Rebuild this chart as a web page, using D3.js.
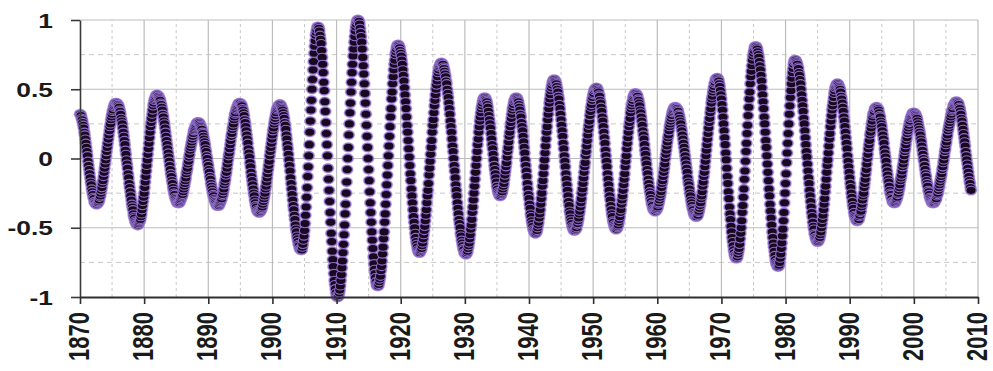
<!DOCTYPE html>
<html>
<head>
<meta charset="utf-8">
<script src="https://cdn.jsdelivr.net/npm/d3@7"></script>
<style>
  html, body { margin: 0; padding: 0; background: #ffffff; }
  svg { display: block; }
</style>
</head>
<body>
<svg id="chart" width="993" height="371"></svg>
<script>
// ---------- DATA (monthly values, starting January 1870) ----------
const startYear = 1870;
const monthsPerYear = 12;

const values1870s = [0.32,0.32,0.31,0.29,0.28,0.26,0.24,0.22,0.19,0.17,0.14,0.11,0.08,0.05,0.02,-0.02,-0.05,-0.08,-0.11,-0.14,-0.17,-0.19,-0.22,-0.24,-0.26,-0.28,-0.29,-0.31,-0.32,-0.32,-0.33,
-0.33,-0.33,-0.32,-0.32,-0.31,-0.30,-0.28,-0.27,-0.25,-0.23,-0.21,-0.18,-0.16,-0.13,-0.10,-0.07,-0.04,-0.01,0.02,0.05,0.08,0.11,0.14,0.17,0.20,0.23,0.25,0.28,0.30,0.32,0.34,0.35,0.37,0.38,0.39,0.40,0.40,
0.40,0.40,0.39,0.39,0.38,0.37,0.35,0.34,0.32,0.29,0.27,0.25,0.22,0.19,0.16,0.13,0.10,0.06,0.03,-0.01,-0.04,-0.07,-0.11,-0.14,-0.18,-0.21,-0.24,-0.27,-0.30,-0.33,-0.35,-0.37,-0.40,-0.42,-0.43,-0.45,-0.46,-0.47,-0.47,-0.48,
-0.48,-0.48,-0.47,-0.46,-0.45,-0.44,-0.42,-0.40,-0.37,-0.34,-0.31,-0.28];

const values1880s = [-0.25,-0.21,-0.17,-0.13,-0.09,-0.05,-0.01,0.03,0.07,0.11,0.15,0.19,0.23,0.26,0.29,0.32,0.35,0.38,0.40,0.42,0.43,0.44,0.45,0.46,
0.46,0.46,0.45,0.45,0.44,0.43,0.42,0.40,0.39,0.37,0.35,0.32,0.30,0.27,0.25,0.22,0.19,0.16,0.13,0.10,0.07,0.04,0.01,-0.02,-0.05,-0.08,-0.11,-0.13,-0.16,-0.18,-0.21,-0.23,-0.25,-0.26,-0.28,-0.29,-0.30,-0.31,-0.32,-0.32,
-0.32,-0.32,-0.32,-0.31,-0.30,-0.29,-0.28,-0.27,-0.26,-0.24,-0.22,-0.20,-0.18,-0.16,-0.14,-0.11,-0.09,-0.07,-0.04,-0.02,0.01,0.03,0.06,0.08,0.10,0.12,0.14,0.16,0.18,0.20,0.21,0.22,0.23,0.24,0.25,0.26,0.26,
0.26,0.26,0.26,0.25,0.24,0.23,0.22,0.21,0.19,0.18,0.16,0.14,0.12,0.10,0.07,0.05,0.02,0.00,-0.03];

const values1890s = [-0.05,-0.08,-0.10,-0.13,-0.15,-0.18,-0.20,-0.22,-0.24,-0.26,-0.27,-0.29,-0.30,-0.31,-0.32,-0.33,-0.34,-0.34,
-0.34,-0.34,-0.34,-0.33,-0.32,-0.31,-0.30,-0.29,-0.27,-0.26,-0.24,-0.22,-0.19,-0.17,-0.15,-0.12,-0.10,-0.07,-0.04,-0.01,0.02,0.04,0.07,0.10,0.13,0.16,0.18,0.21,0.23,0.25,0.28,0.30,0.32,0.33,0.35,0.36,0.37,0.38,0.39,0.40,0.40,
0.40,0.40,0.39,0.39,0.38,0.36,0.35,0.33,0.31,0.28,0.26,0.23,0.20,0.17,0.14,0.11,0.07,0.04,0.01,-0.03,-0.06,-0.10,-0.13,-0.16,-0.19,-0.22,-0.25,-0.27,-0.30,-0.32,-0.34,-0.35,-0.37,-0.38,-0.38,-0.39,
-0.39,-0.39,-0.38,-0.38,-0.37,-0.36,-0.35,-0.33,-0.31,-0.29,-0.27,-0.25,-0.22,-0.20,-0.17,-0.14,-0.11,-0.08,-0.05,-0.02,0.02,0.05,0.08,0.11,0.14];

const values1900s = [0.17,0.20,0.22,0.25,0.27,0.29,0.31,0.33,0.35,0.36,0.37,0.38,0.38,0.39,
0.39,0.39,0.38,0.37,0.36,0.35,0.33,0.31,0.29,0.26,0.24,0.21,0.17,0.14,0.10,0.07,0.03,-0.01,-0.05,-0.09,-0.14,-0.18,-0.22,-0.26,-0.30,-0.34,-0.37,-0.41,-0.44,-0.48,-0.51,-0.53,-0.56,-0.58,-0.60,-0.62,-0.63,-0.65,-0.65,-0.66,
-0.66,-0.66,-0.64,-0.62,-0.59,-0.56,-0.52,-0.47,-0.41,-0.35,-0.28,-0.21,-0.13,-0.06,0.02,0.10,0.19,0.27,0.35,0.42,0.50,0.57,0.64,0.70,0.76,0.81,0.85,0.89,0.91,0.93,0.95,
0.95,0.95,0.94,0.92,0.89,0.86,0.83,0.78,0.73,0.68,0.62,0.55,0.49,0.41,0.34,0.26,0.18,0.10,0.02,-0.07,-0.15,-0.23,-0.31,-0.39,-0.46,-0.54,-0.60,-0.67,-0.73,-0.78,-0.83,-0.88,-0.91,-0.94,-0.97];

const values1910s = [-0.99,-1.00,
-1.00,-1.00,-0.99,-0.97,-0.95,-0.92,-0.88,-0.84,-0.79,-0.74,-0.68,-0.62,-0.55,-0.48,-0.40,-0.33,-0.25,-0.17,-0.08,0.00,0.08,0.17,0.25,0.33,0.40,0.48,0.55,0.62,0.68,0.74,0.79,0.84,0.88,0.92,0.95,0.97,0.99,1.00,
1.00,1.00,0.99,0.97,0.94,0.91,0.88,0.84,0.79,0.73,0.67,0.61,0.54,0.47,0.40,0.32,0.24,0.16,0.08,0.00,-0.08,-0.16,-0.24,-0.32,-0.39,-0.46,-0.53,-0.59,-0.65,-0.71,-0.76,-0.80,-0.83,-0.86,-0.89,-0.91,-0.92,
-0.92,-0.92,-0.91,-0.89,-0.87,-0.85,-0.81,-0.78,-0.74,-0.69,-0.64,-0.58,-0.53,-0.46,-0.40,-0.33,-0.26,-0.19,-0.12,-0.05,0.02,0.09,0.16,0.23,0.30,0.36,0.43,0.48,0.54,0.59,0.64,0.68,0.71,0.75,0.77,0.79,0.81,0.82,
0.82,0.82,0.81,0.80,0.78];

const values1920s = [0.76,0.74,0.71,0.68,0.64,0.60,0.56,0.51,0.46,0.41,0.36,0.30,0.24,0.19,0.13,0.07,0.01,-0.05,-0.11,-0.16,-0.22,-0.27,-0.32,-0.37,-0.42,-0.46,-0.50,-0.54,-0.57,-0.60,-0.62,-0.64,-0.66,-0.67,-0.68,
-0.68,-0.68,-0.67,-0.66,-0.65,-0.63,-0.61,-0.58,-0.55,-0.52,-0.49,-0.45,-0.41,-0.37,-0.32,-0.27,-0.23,-0.18,-0.12,-0.07,-0.02,0.03,0.08,0.13,0.19,0.24,0.28,0.33,0.38,0.42,0.46,0.50,0.53,0.56,0.59,0.62,0.64,0.66,0.67,0.68,0.69,
0.69,0.69,0.68,0.68,0.66,0.65,0.63,0.61,0.59,0.56,0.54,0.50,0.47,0.44,0.40,0.36,0.32,0.27,0.23,0.19,0.14,0.09,0.05,0.00,-0.05,-0.09,-0.14,-0.19,-0.23,-0.27,-0.32,-0.36,-0.40,-0.44,-0.47,-0.50,-0.54,-0.56,-0.59,-0.61,-0.63,-0.65,-0.66,-0.68];

const values1930s = [-0.68,-0.69,
-0.69,-0.69,-0.68,-0.67,-0.65,-0.63,-0.61,-0.58,-0.55,-0.51,-0.48,-0.44,-0.39,-0.35,-0.30,-0.25,-0.20,-0.15,-0.10,-0.05,0.00,0.05,0.10,0.14,0.19,0.23,0.27,0.30,0.33,0.36,0.38,0.40,0.42,0.43,0.44,
0.44,0.44,0.43,0.42,0.41,0.39,0.37,0.34,0.31,0.28,0.25,0.22,0.18,0.14,0.10,0.07,0.03,-0.01,-0.05,-0.08,-0.11,-0.14,-0.17,-0.20,-0.22,-0.24,-0.25,-0.26,-0.27,
-0.27,-0.27,-0.26,-0.25,-0.24,-0.22,-0.20,-0.18,-0.15,-0.12,-0.09,-0.06,-0.03,0.01,0.05,0.08,0.12,0.16,0.19,0.23,0.26,0.29,0.32,0.35,0.37,0.39,0.41,0.42,0.43,0.44,
0.44,0.44,0.43,0.42,0.41,0.39,0.37,0.35,0.32,0.30,0.26,0.23,0.20,0.16,0.12,0.08,0.04,-0.01,-0.05,-0.09,-0.13,-0.18,-0.22,-0.26];

const values1940s = [-0.29,-0.33,-0.36,-0.40,-0.42,-0.45,-0.47,-0.49,-0.51,-0.52,-0.53,-0.54,
-0.54,-0.54,-0.53,-0.52,-0.50,-0.48,-0.46,-0.43,-0.40,-0.37,-0.33,-0.29,-0.25,-0.20,-0.16,-0.11,-0.06,-0.01,0.04,0.09,0.14,0.19,0.23,0.28,0.32,0.36,0.40,0.43,0.46,0.49,0.51,0.53,0.55,0.56,0.57,
0.57,0.57,0.56,0.55,0.54,0.52,0.50,0.48,0.45,0.43,0.39,0.36,0.32,0.28,0.24,0.20,0.16,0.11,0.07,0.02,-0.02,-0.06,-0.11,-0.15,-0.19,-0.23,-0.27,-0.31,-0.34,-0.38,-0.40,-0.43,-0.45,-0.47,-0.49,-0.50,-0.51,-0.52,
-0.52,-0.52,-0.51,-0.51,-0.50,-0.48,-0.47,-0.45,-0.43,-0.40,-0.38,-0.35,-0.32,-0.29,-0.25,-0.22,-0.18,-0.14,-0.10,-0.06,-0.03,0.02,0.05,0.09,0.13,0.17,0.21,0.24,0.27,0.31,0.34,0.37,0.39,0.42,0.44];

const values1950s = [0.46,0.47,0.49,0.50,0.50,0.51,
0.51,0.51,0.50,0.49,0.48,0.46,0.45,0.42,0.40,0.37,0.34,0.30,0.27,0.23,0.19,0.15,0.11,0.06,0.02,-0.02,-0.06,-0.11,-0.15,-0.19,-0.23,-0.27,-0.30,-0.34,-0.37,-0.40,-0.42,-0.45,-0.46,-0.48,-0.49,-0.50,-0.51,
-0.51,-0.51,-0.50,-0.49,-0.48,-0.46,-0.44,-0.42,-0.39,-0.37,-0.33,-0.30,-0.27,-0.23,-0.19,-0.15,-0.11,-0.06,-0.02,0.02,0.07,0.11,0.15,0.19,0.23,0.26,0.29,0.33,0.36,0.38,0.40,0.42,0.44,0.45,0.46,0.47,
0.47,0.47,0.46,0.46,0.45,0.43,0.42,0.40,0.38,0.35,0.33,0.30,0.27,0.24,0.20,0.17,0.14,0.10,0.06,0.03,-0.01,-0.04,-0.08,-0.11,-0.15,-0.18,-0.21,-0.24,-0.26,-0.29,-0.31,-0.33,-0.34,-0.36,-0.37,-0.37,-0.38,
-0.38,-0.38,-0.37,-0.37];

const values1960s = [-0.36,-0.35,-0.33,-0.32,-0.30,-0.28,-0.26,-0.24,-0.21,-0.18,-0.16,-0.13,-0.10,-0.07,-0.04,0.00,0.03,0.06,0.09,0.12,0.15,0.17,0.20,0.23,0.25,0.27,0.29,0.31,0.33,0.34,0.35,0.36,0.37,0.37,
0.37,0.37,0.36,0.36,0.35,0.34,0.32,0.31,0.29,0.27,0.25,0.22,0.20,0.17,0.14,0.11,0.08,0.05,0.02,-0.01,-0.04,-0.07,-0.10,-0.14,-0.17,-0.19,-0.22,-0.25,-0.27,-0.30,-0.32,-0.34,-0.36,-0.37,-0.39,-0.40,-0.41,-0.41,-0.42,
-0.42,-0.42,-0.41,-0.41,-0.39,-0.38,-0.36,-0.34,-0.32,-0.29,-0.27,-0.24,-0.20,-0.17,-0.13,-0.10,-0.06,-0.02,0.02,0.06,0.10,0.14,0.18,0.22,0.26,0.29,0.33,0.36,0.40,0.43,0.45,0.48,0.50,0.52,0.54,0.55,0.57,0.57,0.58,
0.58,0.58,0.57,0.56,0.54,0.52,0.49,0.46];

const values1970s = [0.43,0.39,0.35,0.30,0.25,0.20,0.15,0.10,0.04,-0.01,-0.07,-0.13,-0.18,-0.24,-0.29,-0.35,-0.40,-0.44,-0.49,-0.53,-0.57,-0.60,-0.63,-0.66,-0.68,-0.70,-0.71,-0.72,
-0.72,-0.72,-0.71,-0.69,-0.67,-0.65,-0.62,-0.58,-0.54,-0.50,-0.45,-0.39,-0.34,-0.28,-0.22,-0.15,-0.09,-0.02,0.05,0.11,0.18,0.24,0.31,0.37,0.43,0.48,0.54,0.59,0.63,0.67,0.71,0.74,0.76,0.78,0.80,0.81,
0.81,0.81,0.80,0.79,0.77,0.75,0.73,0.70,0.67,0.64,0.60,0.56,0.51,0.46,0.41,0.36,0.30,0.25,0.19,0.13,0.08,0.02,-0.04,-0.10,-0.16,-0.22,-0.27,-0.33,-0.38,-0.43,-0.48,-0.53,-0.57,-0.61,-0.64,-0.67,-0.70,-0.73,-0.75,-0.76,-0.77,-0.78,
-0.78,-0.78,-0.77,-0.75,-0.72,-0.69,-0.65,-0.61,-0.56,-0.51,-0.45,-0.39,-0.32,-0.25];

const values1980s = [-0.18,-0.11,-0.03,0.04,0.11,0.18,0.25,0.32,0.38,0.44,0.49,0.54,0.58,0.62,0.65,0.68,0.70,0.71,
0.71,0.71,0.70,0.69,0.68,0.66,0.65,0.62,0.60,0.57,0.54,0.50,0.46,0.42,0.38,0.34,0.29,0.25,0.20,0.15,0.10,0.05,0.01,-0.04,-0.09,-0.14,-0.18,-0.23,-0.27,-0.31,-0.35,-0.39,-0.42,-0.46,-0.49,-0.51,-0.54,-0.55,-0.57,-0.58,-0.59,-0.60,
-0.60,-0.60,-0.59,-0.58,-0.57,-0.55,-0.53,-0.50,-0.47,-0.44,-0.41,-0.37,-0.33,-0.29,-0.24,-0.20,-0.15,-0.10,-0.05,-0.01,0.04,0.09,0.14,0.18,0.23,0.27,0.31,0.35,0.38,0.41,0.44,0.47,0.49,0.51,0.52,0.53,0.54,
0.54,0.54,0.53,0.52,0.51,0.50,0.48,0.45,0.43,0.40,0.37,0.34,0.30,0.27,0.23,0.19,0.15,0.11,0.07,0.02,-0.02,-0.06,-0.10];

const values1990s = [-0.14,-0.18,-0.21,-0.25,-0.28,-0.31,-0.34,-0.36,-0.39,-0.41,-0.42,-0.43,-0.44,-0.45,
-0.45,-0.45,-0.44,-0.44,-0.42,-0.41,-0.39,-0.38,-0.35,-0.33,-0.30,-0.27,-0.25,-0.21,-0.18,-0.15,-0.11,-0.08,-0.04,0.00,0.03,0.07,0.10,0.13,0.17,0.19,0.22,0.25,0.27,0.30,0.32,0.33,0.34,0.36,0.36,0.37,
0.37,0.37,0.36,0.36,0.35,0.33,0.31,0.30,0.27,0.25,0.23,0.20,0.17,0.14,0.11,0.07,0.04,0.01,-0.02,-0.06,-0.09,-0.12,-0.15,-0.17,-0.20,-0.23,-0.25,-0.26,-0.28,-0.29,-0.31,-0.31,-0.32,
-0.32,-0.32,-0.32,-0.31,-0.30,-0.29,-0.28,-0.26,-0.25,-0.23,-0.21,-0.19,-0.16,-0.14,-0.12,-0.09,-0.06,-0.04,-0.01,0.02,0.05,0.07,0.10,0.13,0.15,0.18,0.20,0.22,0.24,0.26,0.27,0.29,0.30,0.31,0.32,0.33,0.33];

const values2000s = [0.33,0.33,0.32,0.32,0.31,0.30,0.29,0.27,0.25,0.23,0.21,0.19,0.17,0.14,0.12,0.09,0.06,0.03,0.00,-0.02,-0.05,-0.08,-0.11,-0.13,-0.16,-0.18,-0.20,-0.23,-0.24,-0.26,-0.28,-0.29,-0.30,-0.31,-0.32,-0.32,
-0.32,-0.32,-0.32,-0.31,-0.30,-0.30,-0.29,-0.27,-0.26,-0.25,-0.23,-0.21,-0.19,-0.17,-0.15,-0.13,-0.11,-0.08,-0.06,-0.03,-0.01,0.02,0.05,0.07,0.10,0.12,0.15,0.17,0.20,0.22,0.24,0.26,0.28,0.30,0.32,0.34,0.35,0.36,0.38,0.39,0.39,0.40,0.41,0.41,
0.41,0.41,0.40,0.40,0.39,0.37,0.36,0.34,0.32,0.29,0.27,0.24,0.21,0.18,0.15,0.12,0.09,0.05,0.02,-0.01,-0.04,-0.07,-0.10,-0.13,-0.16,-0.18,-0.21,-0.23];

// ---------- AXIS TICKS ----------
const xTicks = [1870,1880,1890,1900,1910,1920,1930,1940,1950,1960,1970,1980,1990,2000,2010];
const xMinorTicks = [1875,1885,1895,1905,1915,1925,1935,1945,1955,1965,1975,1985,1995,2005];
const yTicks = [-1,-0.5,0,0.5,1];
const yTickLabels = ["-1","-0.5","0","0.5","1"];
const yMinorTicks = [-0.75,-0.25,0.25,0.75];

// ---------- BUILD ----------
const series = [].concat(values1870s, values1880s, values1890s, values1900s, values1910s,
  values1920s, values1930s, values1940s, values1950s, values1960s, values1970s,
  values1980s, values1990s, values2000s);
const data = series.map((v, i) => ({ t: startYear + i / monthsPerYear, v: v }));

const svg = d3.select("#chart");
svg.append("rect").attr("width", 993).attr("height", 371).attr("fill", "#ffffff");

const plot = { left: 80, right: 978, top: 20, bottom: 297 };
const x = d3.scaleLinear().domain([xTicks[0], xTicks[xTicks.length - 1]]).range([plot.left, plot.right]);
const y = d3.scaleLinear().domain([yTicks[0], yTicks[yTicks.length - 1]]).range([plot.bottom, plot.top]);

const fontFamily = "Arial, 'Liberation Sans', Helvetica, sans-serif";

// grid
const grid = svg.append("g").attr("class", "grid");
grid.selectAll("line.vminor").data(xMinorTicks).join("line")
  .attr("class", "vminor")
  .attr("x1", d => x(d)).attr("x2", d => x(d))
  .attr("y1", y(-1)).attr("y2", y(1))
  .attr("stroke", "#c8c8c8").attr("stroke-width", 1).attr("stroke-dasharray", "3,3");
grid.selectAll("line.hminor").data(yMinorTicks).join("line")
  .attr("class", "hminor")
  .attr("x1", x(1870)).attr("x2", x(2010))
  .attr("y1", d => y(d)).attr("y2", d => y(d))
  .attr("stroke", "#c8c8c8").attr("stroke-width", 1).attr("stroke-dasharray", "5,4");
grid.selectAll("line.vmajor").data(xTicks.slice(1)).join("line")
  .attr("class", "vmajor")
  .attr("x1", d => x(d)).attr("x2", d => x(d))
  .attr("y1", y(-1)).attr("y2", y(1))
  .attr("stroke", "#bdbdbd").attr("stroke-width", 1.2);
grid.selectAll("line.hmajor").data(yTicks.slice(1)).join("line")
  .attr("class", "hmajor")
  .attr("x1", x(1870)).attr("x2", x(2010))
  .attr("y1", d => y(d)).attr("y2", d => y(d))
  .attr("stroke", "#bdbdbd").attr("stroke-width", 1.2);

// points (halo underlayer, then markers in time order)
const pts = svg.append("g").attr("class", "points");
pts.selectAll("ellipse.halo").data(data).join("ellipse")
  .attr("class", "halo")
  .attr("cx", d => x(d.t)).attr("cy", d => y(d.v))
  .attr("rx", 6.4).attr("ry", 5.4)
  .attr("fill", "#ae95e0").attr("opacity", 0.6);
pts.selectAll("ellipse.dot").data(data).join("ellipse")
  .attr("class", "dot")
  .attr("cx", d => x(d.t)).attr("cy", d => y(d.v))
  .attr("rx", 5.1).attr("ry", 4.1)
  .attr("fill", "#180820")
  .attr("stroke", "#8d6cc8").attr("stroke-width", 1.1);

// y axis
const yAxis = d3.axisLeft(y).tickValues(yTicks).tickSize(9).tickSizeOuter(0)
  .tickFormat((d, i) => yTickLabels[i]);
const gy = svg.append("g").attr("transform", `translate(${plot.left},0)`).call(yAxis);
gy.select(".domain").attr("stroke", "#3a3a3a").attr("stroke-width", 1.6);
gy.selectAll(".tick line").attr("stroke", "#3a3a3a").attr("stroke-width", 1.6);
gy.selectAll(".tick text")
  .attr("x", 0).attr("dy", "0.36em")
  .attr("transform", "translate(-27,0) scale(1.32,1)")
  .attr("text-anchor", "end")
  .attr("fill", "#1a1a1a")
  .style("font-family", fontFamily).style("font-size", "20px").style("font-weight", "bold");

// x axis
const xAxis = d3.axisBottom(x).tickValues(xTicks).tickSize(7).tickSizeOuter(0)
  .tickFormat(d3.format("d"));
const gx = svg.append("g").attr("transform", `translate(0,${plot.bottom})`).call(xAxis);
gx.select(".domain").attr("stroke", "#2e2e2e").attr("stroke-width", 2);
gx.selectAll(".tick line").attr("stroke", "#2e2e2e").attr("stroke-width", 1.6);
gx.selectAll(".tick text")
  .attr("x", 0).attr("y", 0).attr("dy", "0.36em")
  .attr("transform", "translate(-2,15) scale(1.32,1) rotate(-90)")
  .attr("text-anchor", "end")
  .attr("fill", "#1a1a1a")
  .style("font-family", fontFamily).style("font-size", "22px").style("font-weight", "bold");
</script>
</body>
</html>
